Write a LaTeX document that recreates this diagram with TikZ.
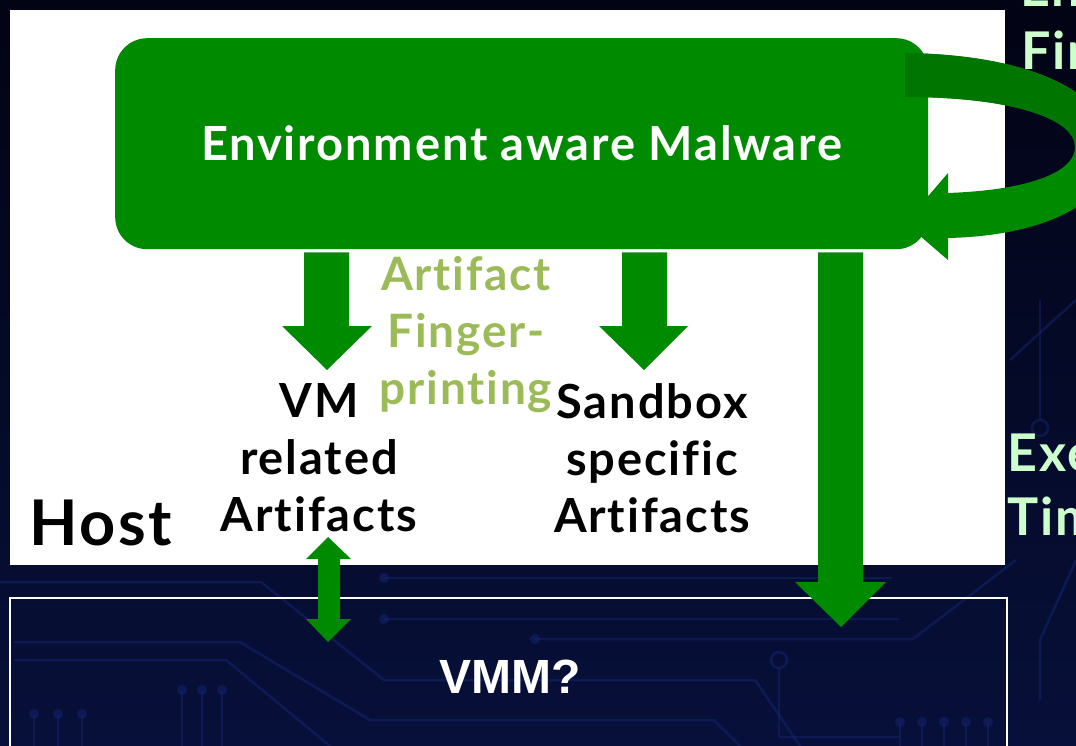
\documentclass[tikz,border=0pt]{standalone}
\usepackage{fontspec}
\setmainfont{Lato}[Ligatures=NoCommon,LetterSpace=4]
\newfontfamily\vmmfont{Liberation Sans}
\definecolor{mygreen}{HTML}{008A00}
\definecolor{darkgreen}{HTML}{007500}
\definecolor{olive}{HTML}{9BBB59}
\definecolor{lightgr}{HTML}{CCFFCC}
\definecolor{bgtop}{HTML}{020314}
\definecolor{bgbot}{HTML}{07103A}
\definecolor{trace}{HTML}{17287A}
\begin{document}
\begin{tikzpicture}[x=1pt,y=-1pt,
  blk/.style={fill=mygreen,draw=none},
  tr/.style={draw=trace,line width=2.5pt,opacity=0.45,line join=round},
  pin/.style={fill=trace,opacity=0.45},
  lbl/.style={inner sep=0pt,align=center,font=\bfseries\fontsize{47}{57}\selectfont},
  fpl/.style={inner sep=0pt,align=center,text=olive,font=\bfseries\fontsize{46}{57}\selectfont},
  side/.style={inner sep=0pt,anchor=base west,text=lightgr,font=\bfseries\fontsize{52}{64}\selectfont}]
\useasboundingbox (0,0) rectangle (1076,746);
\clip (0,0) rectangle (1076,746);
% background
\shade[top color=bgtop,bottom color=bgbot] (0,0) rectangle (1076,746);
% circuit traces
\draw[tr] (0,582) -- (261,582) -- (384,680) -- (755,680) -- (800,746);
\draw[tr] (384,578) -- (892,578);
\fill[pin] (384,578) circle (5);
\draw[tr] (384,619) -- (899,619);
\fill[pin] (384,619) circle (5);
\draw[tr] (535,639) -- (913,639) -- (1016,560);
\fill[pin] (535,639) circle (5);
\draw[tr] (14,642) -- (240,642) -- (370,720) -- (714,720) -- (740,746);
\draw[tr] (14,660) -- (226,660) -- (330,746);
\draw[tr] (779,668) -- (779,737) -- (900,737);
\draw[tr] (779,660) circle (8);
\foreach \px in {900,922,944,966,988}{\draw[tr] (\px,746) -- (\px,724); \fill[pin] (\px,722) circle (5);}
\foreach \px in {34,58,82}{\draw[tr] (\px,746) -- (\px,716); \fill[pin] (\px,714) circle (5);}
\foreach \px in {182,202,222}{\draw[tr] (\px,746) -- (\px,692); \fill[pin] (\px,690) circle (5);}
\draw[tr] (1040,300) -- (1040,420);
\draw[tr] (1040,428) circle (8);
\draw[tr] (1010,360) -- (1076,300);
\draw[tr] (1076,560) -- (1040,640) -- (1040,700);
% host box
\node[fill=white,draw=none,inner sep=0pt,minimum width=995,minimum height=555,anchor=north west] (host) at (10,10) {};
\node[anchor=base west,inner sep=0pt,font=\bfseries\fontsize{63}{70}\selectfont] (hostlbl) at (29,545) {Host};
% VMM box
\node[draw=white,line width=1.5pt,inner sep=0pt,minimum width=997,minimum height=160,anchor=north west] (vmm) at (9,597) {};
\node[text=white,inner sep=0pt,font=\vmmfont\bfseries\fontsize{48}{56}\selectfont] (vmmlbl) at (510,677) {VMM?};
% malware box
\node[fill=mygreen,rounded corners=32pt,inner sep=0pt,minimum width=813,minimum height=211,anchor=north west,
  text=white,font=\bfseries\fontsize{47}{54}\selectfont] (mal) at (115,38) {\raisebox{-4pt}{Environment aware Malware}};
% artifact labels
\node[lbl,anchor=north] (vm) at (319,383) {VM\\related\\Artifacts};
\node[lbl,anchor=north] (sb) at (652,383) {Sandbox\\specific\\Artifacts};
\node[fpl,anchor=north] (fp) at (466,256) {Artifact\\Finger-\\printing};
% block arrows
\path (mal.south -| 327,0) coordinate (a1) (mal.south -| 644,0) coordinate (a2) (mal.south -| 841,0) coordinate (a3);
\fill[blk] ([yshift=-3]a1 -| 304,0) -- (304,326) -- (282,326) -- (327,370) -- (372,326) -- (349,326) -- ([yshift=-3]a1 -| 349,0) -- cycle;
\fill[blk] ([yshift=-3]a2 -| 622,0) -- (622,326) -- (599,326) -- (644,370) -- (688,326) -- (667,326) -- ([yshift=-3]a2 -| 667,0) -- cycle;
\fill[blk] ([yshift=-3]a3 -| 818,0) -- (818,582) -- (795,582) -- (841,627) -- (886,582) -- (863,582) -- ([yshift=-3]a3 -| 863,0) -- cycle;
% double arrow VM <-> VMM
\fill[blk] (328,537) -- (351,559) -- (340,559) -- (340,619) -- (351,619) -- (328,642) -- (306,619) -- (318,619) -- (318,559) -- (306,559) -- cycle;
% curved self arrow
\fill[mygreen] (905,53) .. controls (1045,55) and (1112,100) .. (1112,150) .. controls (1112,205) and (1040,236) .. (948,238) -- (948,260) -- (905,223) -- (948,173) -- (948,193) .. controls (1030,190) and (1075,172) .. (1075,147) .. controls (1075,118) and (1010,97) .. (905,97) -- cycle;
\begin{scope}
\clip (900,0) rectangle (1200,145);
\fill[darkgreen] (905,53) .. controls (1045,55) and (1112,100) .. (1112,150) -- (1075,147) .. controls (1075,118) and (1010,97) .. (905,97) -- cycle;
\end{scope}
% side labels (cut by the picture edge, as in the reference)
\node[side] (en) at (1020,7) {En};
\node[side] (fi) at (1021,70) {Fir};
\node[side] (exe) at (1007,471) {Exe};
\node[side] (tim) at (1007,535) {Tim};
\end{tikzpicture}
\end{document}
